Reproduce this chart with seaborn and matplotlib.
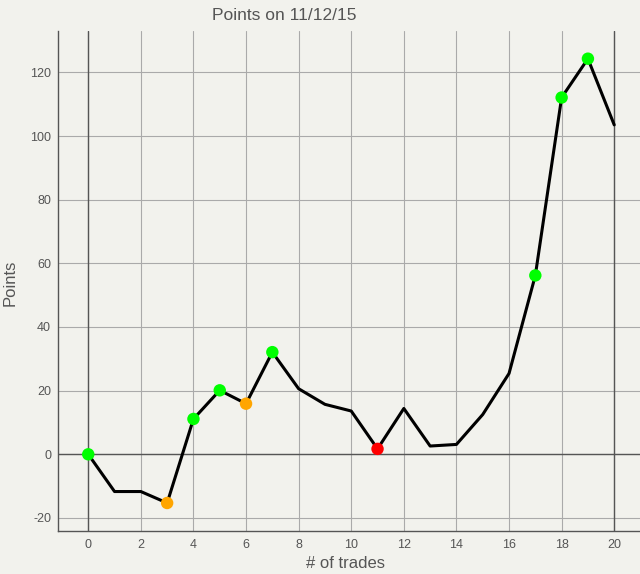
import numpy as np
import pandas as pd
import matplotlib
matplotlib.use("Agg")
import matplotlib.pyplot as plt
import seaborn as sns

# data
trades = list(range(21))
points = [0, -11.7, -11.7, -15.3, 11.1, 20.1, 15.9, 32.1, 20.6, 15.7, 13.6,
          1.7, 14.4, 2.6, 3.1, 12.5, 25.4, 56.2, 112.1, 124.3, 103.5]
# which trades got a marker, and its colour class
marked = [0, 3, 4, 5, 6, 7, 11, 17, 18, 19]
status = ["good", "warn", "good", "good", "warn", "good", "bad", "good", "good", "good"]
palette = {"good": "#00ff00", "warn": "#ffa500", "bad": "#ff0000"}

df = pd.DataFrame({"trades": trades, "points": points})
dots = pd.DataFrame({"trades": marked,
                     "points": [points[i] for i in marked],
                     "status": status})

bg = "#f2f2ed"
sns.set_style("whitegrid")
plt.rcParams['font.family'] = ['Liberation Sans', 'DejaVu Sans']
plt.rcParams['axes.unicode_minus'] = False

fig = plt.figure(figsize=(6.4, 5.74), dpi=100, facecolor=bg)
ax = fig.add_axes([58 / 640, 43 / 574, 582 / 640, 500 / 574])
ax.set_facecolor(bg)

sns.lineplot(data=df, x="trades", y="points", color="black", linewidth=2.2, ax=ax, zorder=3)
sns.scatterplot(data=dots, x="trades", y="points", hue="status", palette=palette,
                s=80, linewidth=0, legend=False, ax=ax, zorder=4)

ax.set_xlim(-1.15, 20.98)
ax.set_ylim(-24.1, 133.0)
ax.set_xticks(range(0, 21, 2))
ax.set_yticks(range(-20, 121, 20))
ax.grid(True, color="#aaaaaa", linewidth=0.8)
ax.axhline(0, color="#555555", linewidth=1.0, zorder=2)
ax.axvline(0, color="#555555", linewidth=1.0, zorder=2)
ax.axvline(20, color="#555555", linewidth=1.0, zorder=2)

for side in ["top", "right"]:
    ax.spines[side].set_visible(False)
for side in ["left", "bottom"]:
    ax.spines[side].set_color("#555555")
    ax.spines[side].set_linewidth(1.0)

ax.tick_params(axis="both", length=0, labelsize=9, labelcolor="#555555")
ax.tick_params(axis="x", pad=6)
ax.tick_params(axis="y", pad=5)
ax.set_xlabel("")
ax.set_ylabel("")
fig.text(346 / 640, 1 - 564 / 574, "# of trades", ha="center", va="center",
         fontsize=12, color="#555555")
fig.text(10 / 640, 1 - 283 / 574, "Points", ha="center", va="center",
         rotation=90, fontsize=12, color="#555555")
fig.text(284 / 640, 1 - 16 / 574, "Points on 11/12/15", ha="center", va="center",
         fontsize=12.5, color="#555555")

fig.savefig("out.png", dpi=100, facecolor=bg)
